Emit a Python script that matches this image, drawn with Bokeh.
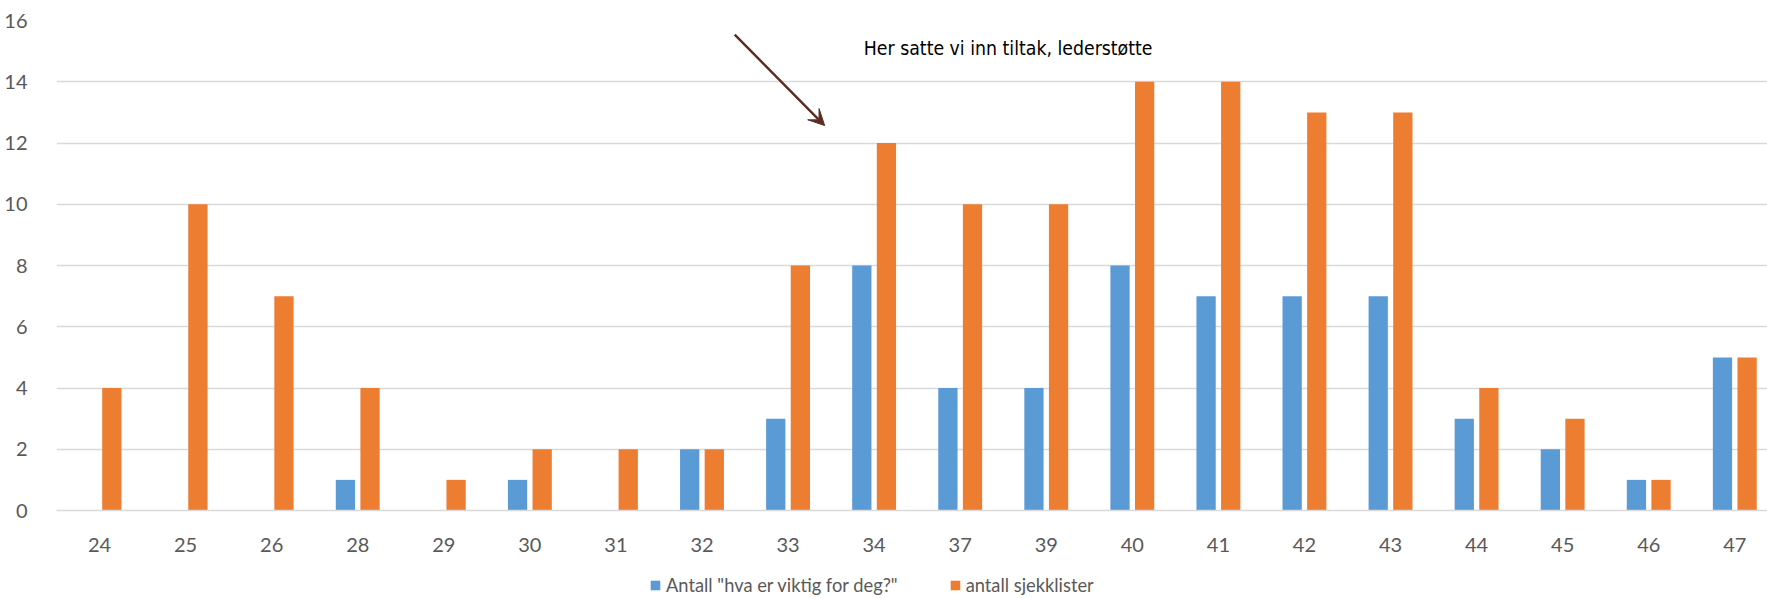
from bokeh.plotting import figure
from bokeh.layouts import column
from bokeh.models import (Range1d, FixedTicker, Legend, LegendItem, Label, Arrow,
                          VeeHead, ColumnDataSource)
from bokeh.transform import dodge
from bokeh.embed import file_html
from bokeh.resources import INLINE

weeks = ["24", "25", "26", "28", "29", "30", "31", "32", "33", "34",
         "37", "39", "40", "41", "42", "43", "44", "45", "46", "47"]
viktig = [0, 0, 0, 1, 0, 1, 0, 2, 3, 8, 4, 4, 8, 7, 7, 7, 3, 2, 1, 5]
sjekklister = [4, 10, 7, 4, 1, 2, 2, 2, 8, 12, 10, 10, 14, 14, 13, 13, 4, 3, 1, 5]
y_ticks = [0, 2, 4, 6, 8, 10, 12, 14, 16]

label_viktig = 'Antall "hva er viktig for deg?"'
label_sjekk = "antall sjekklister"
annotation = "Her satte vi inn tiltak, lederstøtte"

BLUE = "#5B9BD5"
ORANGE = "#ED7D31"
GRID = "#D9D9D9"
TXT = "#595959"
FONT = "Lato"
W = 1767

idx = list(range(len(weeks)))
src = ColumnDataSource(dict(idx=idx, viktig=viktig, sjekk=sjekklister))

p = figure(width=W, height=571, output_backend="svg", toolbar_location=None,
           x_range=Range1d(-0.5, 19.38), y_range=Range1d(0, 16),
           min_border_left=56, min_border_right=0, min_border_top=20,
           min_border_bottom=61)
p.outline_line_color = None

rb = p.vbar(x=dodge("idx", -0.143, range=p.x_range), top="viktig", width=0.224,
            source=src, fill_color=BLUE, line_color=None)
ro = p.vbar(x=dodge("idx", 0.143, range=p.x_range), top="sjekk", width=0.224,
            source=src, fill_color=ORANGE, line_color=None)

p.xaxis.ticker = FixedTicker(ticks=idx)
p.xaxis.major_label_overrides = {i: w for i, w in zip(idx, weeks)}
p.xaxis.axis_line_color = GRID
p.xaxis.axis_line_width = 1.5
p.xaxis.major_tick_line_color = None
p.xaxis.minor_tick_line_color = None
p.xaxis.major_label_standoff = 21
p.yaxis.ticker = FixedTicker(ticks=y_ticks)
p.yaxis.axis_line_color = None
p.yaxis.major_tick_line_color = None
p.yaxis.minor_tick_line_color = None
p.yaxis.major_label_standoff = 23
for ax in (p.xaxis, p.yaxis):
    ax.major_label_text_font = FONT
    ax.major_label_text_font_size = "20px"
    ax.major_label_text_color = TXT

p.xgrid.grid_line_color = None
p.ygrid.ticker = FixedTicker(ticks=y_ticks)
p.ygrid.grid_line_color = GRID
p.ygrid.grid_line_width = 1.5

p.add_layout(Label(x=8.88, y=15.09, text=annotation, text_baseline="middle",
                   text_font="'Liberation Sans Narrow', 'DejaVu Sans Condensed', Lato",
                   text_font_size="19.3px", text_color="black"))

ARROW = "#5B2E24"
p.add_layout(Arrow(end=VeeHead(size=16, fill_color=ARROW, line_color=ARROW),
                   x_start=7.38, y_start=15.54, x_end=8.425, y_end=12.57,
                   line_color=ARROW, line_width=2.5))

# legend strip below the chart (its renderers lie outside its visible ranges)
lg = figure(width=W, height=26, output_backend="svg", toolbar_location=None,
            x_axis_type=None, y_axis_type=None, x_range=Range1d(100, 101),
            y_range=Range1d(100, 101), min_border=0)
lg.outline_line_color = None
lb = lg.vbar(x="idx", top="viktig", width=0.224, source=src,
             fill_color=BLUE, line_color=None)
lo = lg.vbar(x="idx", top="sjekk", width=0.224, source=src,
             fill_color=ORANGE, line_color=None)
legend = Legend(items=[LegendItem(label=label_viktig, renderers=[lb], index=0),
                       LegendItem(label=label_sjekk, renderers=[lo], index=0)],
                location=(593, 1), orientation="horizontal",
                glyph_width=12, glyph_height=12, label_standoff=5,
                label_text_font=FONT, label_text_font_size="18.3px",
                label_text_color=TXT, spacing=51, padding=0, margin=0,
                label_height=22, border_line_color=None, background_fill_alpha=0)
lg.add_layout(legend)

layout = column(p, lg, spacing=0)
open("out.html", "w").write(file_html(layout, INLINE))
